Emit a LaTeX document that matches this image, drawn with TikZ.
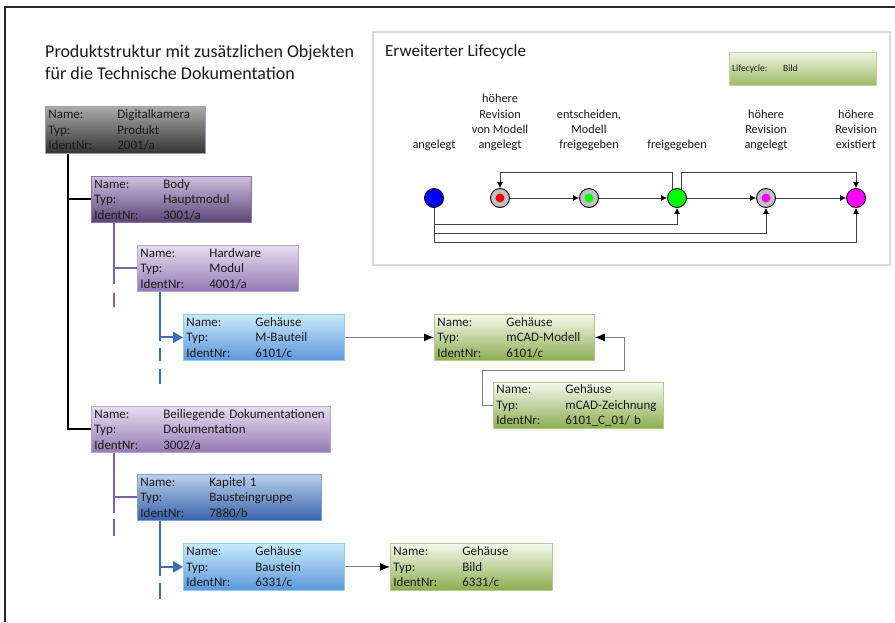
\documentclass[tikz,border=0pt]{standalone}
\usepackage{fontspec}
\setmainfont{Carlito}
\usetikzlibrary{arrows.meta,calc}

\definecolor{txt}{HTML}{1A1A1A}
\definecolor{dkTop}{HTML}{ABABAB}
\definecolor{dkBot}{HTML}{333333}
\definecolor{dkBrd}{HTML}{A49BB8}
\definecolor{pdTop}{HTML}{CDBFDF}
\definecolor{pdBot}{HTML}{5B4475}
\definecolor{pdBrd}{HTML}{8A74A8}
\definecolor{plTop}{HTML}{E6DEF0}
\definecolor{plBot}{HTML}{9479B3}
\definecolor{plBrd}{HTML}{B7A6CD}
\definecolor{blTop}{HTML}{C8EAFB}
\definecolor{blBot}{HTML}{5E96DB}
\definecolor{blBrd}{HTML}{8FCBF2}
\definecolor{bdTop}{HTML}{BBD0EC}
\definecolor{bdBot}{HTML}{3863AA}
\definecolor{bdBrd}{HTML}{7FA0D2}
\definecolor{gTop}{HTML}{F5F9EE}
\definecolor{gBot}{HTML}{8CAD50}
\definecolor{gBrd}{HTML}{B5C98F}
\definecolor{lcTop}{HTML}{F0F4E4}
\definecolor{lcBot}{HTML}{9BBB5F}
\definecolor{lcBrd}{HTML}{C0D0A0}
\definecolor{treePurple}{HTML}{8064A2}
\definecolor{treeBlue}{HTML}{3C6EB4}
\definecolor{connGray}{HTML}{7F7F7F}
\definecolor{lcLine}{HTML}{404040}
\definecolor{panelGray}{HTML}{D9D9D9}
\definecolor{stGray}{HTML}{C0C0C0}
\definecolor{stBlue}{HTML}{0000FF}
\definecolor{stGreen}{HTML}{00FF00}
\definecolor{stRed}{HTML}{FF0000}
\definecolor{stMagenta}{HTML}{FF00FF}

\newcommand{\objrows}[3]{\makebox[69pt][l]{Name:}#1\\\makebox[69pt][l]{Typ:}#2\\\makebox[69pt][l]{IdentNr:}#3}

\tikzset{
  obj/.style={anchor=north west, rectangle, inner xsep=3pt, inner ysep=0pt,
    align=left, font=\fontsize{13}{15.5}\selectfont, text=txt,
    line width=0.8pt, minimum height=46pt},
  objDK/.style={obj, top color=dkTop, bottom color=dkBot, draw=dkBrd},
  objPD/.style={obj, top color=pdTop, bottom color=pdBot, draw=pdBrd},
  objPL/.style={obj, top color=plTop, bottom color=plBot, draw=plBrd},
  objBL/.style={obj, top color=blTop, bottom color=blBot, draw=blBrd},
  objBD/.style={obj, top color=bdTop, bottom color=bdBot, draw=bdBrd},
  objG/.style={obj, top color=gTop, bottom color=gBot, draw=gBrd},
  treeK/.style={line width=2pt, black},
  treeP/.style={line width=2pt, treePurple},
  treeB/.style={line width=2pt, treeBlue},
  treeArrow/.style={-{Triangle[length=10pt,width=11pt]}},
  gconn/.style={draw=connGray, line width=0.9pt, -{Latex[length=10pt,width=8pt,color=black]}},
  lcl/.style={draw=lcLine, line width=0.8pt, -{Latex[length=6pt,width=6pt,color=black]}},
  stnode/.style={circle, draw=black, line width=0.9pt, minimum size=19pt, inner sep=0pt},
  lclabel/.style={anchor=south, align=center, inner sep=0pt, text depth=0pt,
    font=\fontsize{12.3}{15.3}\selectfont, text=txt},
}

\begin{document}
\begin{tikzpicture}[x=1pt, y=-1pt]
\useasboundingbox (0,0) rectangle (895,622);

% frame
\draw[line width=1.2pt, black!85] (5,622) -- (5,7) -- (895,7);

% title
\node[anchor=base west, inner sep=0pt, font=\fontsize{18}{22}\selectfont, text=txt] (title1) at (45,57) {Produktstruktur mit zusätzlichen Objekten};
\node[anchor=base west, inner sep=0pt, font=\fontsize{18}{22}\selectfont, text=txt] (title2) at (45,79) {für die Technische Dokumentation};

% objects
\node[objDK, text width=154pt, minimum height=47pt] (dk) at (45,106) {\objrows{Digitalkamera}{Produkt}{2001/a}};
\node[objPD, text width=154pt] (body) at (91,176) {\objrows{Body}{Hauptmodul}{3001/a}};
\node[objPL, text width=155pt] (hw) at (137,245) {\objrows{Hardware}{Modul}{4001/a}};
\node[objBL, text width=155pt] (mbt) at (183,314) {\objrows{Gehäuse}{M-Bauteil}{6101/c}};
\node[objG, text width=154pt] (mcad) at (434,314) {\objrows{Gehäuse}{mCAD-Modell}{6101/c}};
\node[objG, text width=164pt] (zeich) at (493,382) {\objrows{Gehäuse}{mCAD-Zeichnung}{6101\_C\_01/ b}};
\node[objPL, text width=233pt] (doc) at (91,406) {\objrows{Beiliegende Dokumentationen}{Dokumentation}{3002/a}};
\node[objBD, text width=178pt] (kap) at (137,474) {\objrows{Kapitel 1}{Bausteingruppe}{7880/b}};
\node[objBL, text width=155pt, minimum height=47pt] (bst) at (183,543) {\objrows{Gehäuse}{Baustein}{6331/c}};
\node[objG, text width=156pt, minimum height=47pt] (bild) at (390,543) {\objrows{Gehäuse}{Bild}{6331/c}};

% tree: black
\coordinate (k0) at ($(dk.south west)+(23,0)$);
\draw[treeK] (k0) |- (doc.west);
\draw[treeK] (k0) |- (body.west);

% tree: body
\coordinate (p0) at ($(body.south west)+(23,0)$);
\draw[treeP] (p0) |- (hw.west);
\draw[treeP] (p0) -- ++(0,61);
\draw[treeP] ($(p0)+(0,70)$) -- ++(0,14);

% tree: hardware
\coordinate (b0) at ($(hw.south west)+(23,0)$);
\draw[treeB, treeArrow] (b0) |- (mbt.west);
\draw[treeB] (b0) -- ++(0,49);
\draw[treeB] ($(b0)+(0,56)$) -- ++(0,13);
\draw[treeB] ($(b0)+(0,77)$) -- ++(0,15);

% tree: documentation
\coordinate (p1) at ($(doc.south west)+(23,0)$);
\draw[treeP] (p1) |- (kap.west);
\draw[treeP] (p1) -- ++(0,60);
\draw[treeP] ($(p1)+(0,66)$) -- ++(0,17);

% tree: kapitel
\coordinate (b1) at ($(kap.south west)+(23,0)$);
\draw[treeB, treeArrow] (b1) |- (bst.west);
\draw[treeB] (b1) -- ++(0,55);
\draw[treeB] ($(b1)+(0,62)$) -- ++(0,16);

% gray connectors
\draw[gconn] (mbt.east) -- (mcad.west);
\draw[gconn] (zeich.west) -- ++(-11,0) |- ++(142,-35) |- (mcad.east);
\draw[gconn] (bst.east) -- (bild.west);

% lifecycle panel
\draw[draw=panelGray, line width=1.5pt] (373,32) rectangle (890,265);
\node[anchor=base west, inner sep=0pt, font=\fontsize{17}{20}\selectfont, text=txt] (lct) at (385,56) {Erweiterter Lifecycle};
\node[anchor=north west, minimum width=147pt, minimum height=33pt, top color=lcTop, bottom color=lcBot, draw=lcBrd, line width=0.8pt] (lcb) at (729,52) {};
\node[anchor=base west, inner sep=0pt, font=\fontsize{9.5}{11}\selectfont, text=txt] (lcb1) at (732,71) {Lifecycle:};
\node[anchor=base west, inner sep=0pt, font=\fontsize{9.5}{11}\selectfont, text=txt] (lcb2) at (783,71) {Bild};

% states
\node[stnode, fill=stBlue] (s1) at (434,198) {};
\node[stnode, fill=stGray] (s2) at (500,198) {};
\node[stnode, fill=stGray] (s3) at (589,198) {};
\node[stnode, fill=stGreen] (s4) at (677,198) {};
\node[stnode, fill=stGray] (s5) at (766,198) {};
\node[stnode, fill=stMagenta] (s6) at (856,198) {};
\fill[stRed] (s2.center) circle (4.5pt);
\fill[stGreen] (s3.center) circle (4.5pt);
\fill[stMagenta] (s5.center) circle (4.5pt);

% state labels
\node[lclabel] (l1) at (434,149) {angelegt};
\node[lclabel] (l2) at (500,149) {höhere\\Revision\\von Modell\\angelegt};
\node[lclabel] (l3) at (589,149) {entscheiden,\\Modell\\freigegeben};
\node[lclabel] (l4) at (677,149) {freigegeben};
\node[lclabel] (l5) at (766,149) {höhere\\Revision\\angelegt};
\node[lclabel] (l6) at (856,149) {höhere\\Revision\\existiert};

% lifecycle transitions
\coordinate (ytop) at (0,172);
\coordinate (ya) at (0,224);
\coordinate (yb) at (0,233);
\coordinate (yc) at (0,242);
\draw[lcl] (s2) -- (s3);
\draw[lcl] (s3) -- (s4);
\draw[lcl] (s4) -- (s5);
\draw[lcl] (s5) -- (s6);
\draw[lcl] (s4.115) |- (s2.north |- ytop) -- (s2.north);
\draw[lcl] (s4.65) |- (s6.north |- ytop) -- (s6.north);
\draw[lcl] (s1.south) |- (s4.south |- ya) -- (s4.south);
\draw[lcl] (s1.south) |- (s5.south |- yb) -- (s5.south);
\draw[lcl] (s1.south) |- (s6.south |- yc) -- (s6.south);
\end{tikzpicture}
\end{document}
